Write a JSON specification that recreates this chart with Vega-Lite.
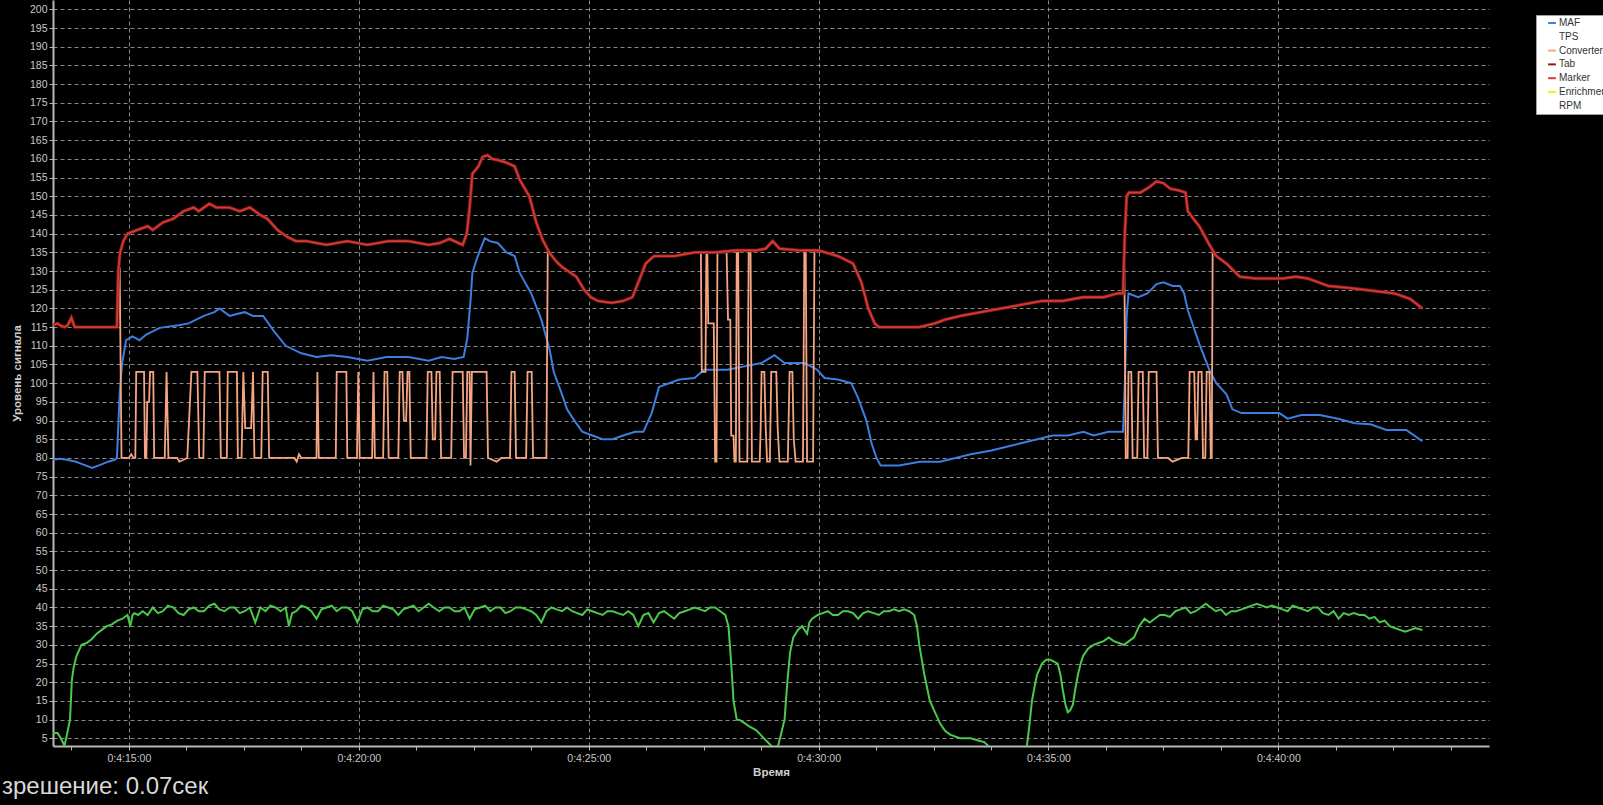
{
  "$schema": "https://vega.github.io/schema/vega-lite/v6.json",
  "width": 1436,
  "height": 746,
  "autosize": {"type": "none"},
  "padding": {"left": 53, "top": 0, "right": 114, "bottom": 59},
  "background": "#000000",
  "title": {
    "text": "зрешение: 0.07сек",
    "orient": "bottom",
    "anchor": "start",
    "frame": "group",
    "baseline": "alphabetic",
    "offset": 16,
    "dx": -51,
    "fontSize": 24,
    "fontWeight": "normal",
    "font": "Liberation Sans",
    "color": "#d8d8d8"
  },
  "datasets": {
    "green": [
      {"t":253.34,"v":6.4},{"t":253.45,"v":6.4},{"t":253.52,"v":5},{"t":253.6,"v":3},{"t":253.67,"v":7},{"t":253.72,"v":10},{"t":253.76,"v":20.6},{"t":253.8,"v":24},{"t":253.86,"v":27},{"t":253.97,"v":30},{"t":254.08,"v":30.5},{"t":254.19,"v":31.5},{"t":254.3,"v":33},{"t":254.41,"v":34},{"t":254.52,"v":35},{"t":254.63,"v":35.5},{"t":254.75,"v":36.5},{"t":254.86,"v":37},{"t":254.97,"v":38},{"t":255.03,"v":35},{"t":255.08,"v":38},{"t":255.12,"v":38.5},{"t":255.2,"v":38},{"t":255.3,"v":39},{"t":255.41,"v":38},
      {"t":255.52,"v":40},{"t":255.63,"v":38.5},{"t":255.74,"v":39},{"t":255.85,"v":40.5},{"t":255.97,"v":40},{"t":256.08,"v":38.5},{"t":256.19,"v":38},{"t":256.3,"v":39.5},{"t":256.41,"v":40},{"t":256.52,"v":39},{"t":256.63,"v":39},{"t":256.75,"v":40.5},{"t":256.86,"v":41},{"t":256.97,"v":39.5},{"t":257.08,"v":39},{"t":257.19,"v":40},{"t":257.3,"v":40},{"t":257.41,"v":38.5},{"t":257.52,"v":39},{"t":257.63,"v":40},{"t":257.75,"v":36},{"t":257.86,"v":40},{"t":257.97,"v":39},{"t":258.08,"v":40.5},{"t":258.19,"v":40},{"t":258.3,"v":39},{"t":258.41,"v":40},{"t":258.48,"v":35},{"t":258.55,"v":38.5},{"t":258.64,"v":39},{"t":258.75,"v":40.5},{"t":258.86,"v":40},{"t":258.97,"v":39},{"t":259.08,"v":37},{"t":259.19,"v":39.5},{"t":259.3,"v":40},{"t":259.41,"v":40.5},{"t":259.52,"v":39},{"t":259.63,"v":40},{"t":259.75,"v":40},{"t":259.86,"v":39},{"t":259.97,"v":36},{"t":260.08,"v":39.5},{"t":260.19,"v":40},{"t":260.3,"v":39},{"t":260.42,"v":39},{"t":260.53,"v":40.5},{"t":260.64,"v":40},{"t":260.75,"v":39.5},{"t":260.86,"v":38},{"t":260.97,"v":39.5},{"t":261.08,"v":40},{"t":261.19,"v":40.5},{"t":261.3,"v":39},{"t":261.41,"v":40},{"t":261.52,"v":41},{"t":261.63,"v":40},{"t":261.75,"v":39},{"t":261.86,"v":40},{"t":261.97,"v":40},{"t":262.08,"v":39},{"t":262.19,"v":39},{"t":262.3,"v":40},{"t":262.41,"v":37},{"t":262.52,"v":39.5},{"t":262.64,"v":40},{"t":262.75,"v":40.5},{"t":262.86,"v":39},{"t":262.97,"v":40},{"t":263.08,"v":40},{"t":263.19,"v":38.5},{"t":263.3,"v":39},{"t":263.41,"v":40},{"t":263.53,"v":40},{"t":263.64,"v":39.5},{"t":263.75,"v":39},{"t":263.86,"v":38},{"t":263.97,"v":36},{"t":264.08,"v":39},{"t":264.19,"v":40},{"t":264.3,"v":39.5},{"t":264.42,"v":39},{"t":264.53,"v":40},{"t":264.64,"v":39},{"t":264.75,"v":38.5},{"t":264.86,"v":38},{"t":264.97,"v":39.5},{"t":265.08,"v":39},{"t":265.19,"v":38.5},{"t":265.3,"v":38},{"t":265.41,"v":39},{"t":265.52,"v":39},{"t":265.63,"v":38.5},{"t":265.75,"v":38},{"t":265.86,"v":39},{"t":265.97,"v":38},{"t":266.08,"v":35},{"t":266.19,"v":38},{"t":266.3,"v":38.5},{"t":266.41,"v":36},{"t":266.53,"v":38.5},{"t":266.64,"v":39},{"t":266.75,"v":38},{"t":266.86,"v":37},{"t":266.97,"v":38.5},{"t":267.09,"v":39},{"t":267.2,"v":39.5},{"t":267.31,"v":40},{"t":267.42,"v":39.5},{"t":267.53,"v":39},{"t":267.64,"v":40},{"t":267.75,"v":40},{"t":267.86,"v":39},{"t":267.97,"v":38},
      {"t":268.04,"v":35},{"t":268.1,"v":25},{"t":268.15,"v":15},{"t":268.22,"v":10},{"t":268.28,"v":9.9},{"t":268.4,"v":9},{"t":268.5,"v":8.1},{"t":268.64,"v":7.2},{"t":268.78,"v":5.4},{"t":268.97,"v":3},{"t":269.05,"v":2.5},{"t":269.12,"v":3},{"t":269.26,"v":10},{"t":269.32,"v":20},{"t":269.38,"v":28},{"t":269.45,"v":32},{"t":269.55,"v":34},{"t":269.64,"v":35},{"t":269.75,"v":33},{"t":269.8,"v":36},{"t":269.86,"v":37},{"t":269.98,"v":38},{"t":270.09,"v":38.5},{"t":270.2,"v":39},{"t":270.31,"v":38},{"t":270.42,"v":38},{"t":270.53,"v":39},{"t":270.64,"v":39},{"t":270.75,"v":38.5},{"t":270.86,"v":37},{"t":270.97,"v":38.5},{"t":271.08,"v":39},{"t":271.2,"v":38.5},{"t":271.31,"v":38},{"t":271.42,"v":39},{"t":271.53,"v":39},{"t":271.64,"v":39.5},{"t":271.75,"v":39},{"t":271.86,"v":39.5},{"t":271.97,"v":39},{"t":272.08,"v":38},{"t":272.14,"v":35},{"t":272.19,"v":30},{"t":272.3,"v":22},{"t":272.42,"v":15},{"t":272.53,"v":12},{"t":272.64,"v":9},{"t":272.75,"v":7},{"t":272.86,"v":6},{"t":272.97,"v":5.5},{"t":273.09,"v":5},{"t":273.31,"v":5},{"t":273.45,"v":4.5},{"t":273.6,"v":4},{"t":273.69,"v":3},{"t":273.76,"v":0},{"t":274.47,"v":0},{"t":274.53,"v":3},{"t":274.58,"v":8},{"t":274.64,"v":15},{"t":274.7,"v":19},{"t":274.75,"v":22},{"t":274.86,"v":25},{"t":274.95,"v":26},{"t":275.04,"v":26},{"t":275.12,"v":25.5},{"t":275.2,"v":25},{"t":275.26,"v":22},{"t":275.31,"v":18},{"t":275.37,"v":14},{"t":275.42,"v":12},{"t":275.47,"v":12.5},{"t":275.53,"v":14},{"t":275.58,"v":18},{"t":275.64,"v":22},{"t":275.7,"v":25},{"t":275.75,"v":27},{"t":275.86,"v":29},{"t":275.98,"v":30},{"t":276.09,"v":30.5},{"t":276.2,"v":31},{"t":276.31,"v":32},{"t":276.42,"v":31},{"t":276.53,"v":30.5},{"t":276.64,"v":30},{"t":276.75,"v":31},{"t":276.86,"v":32},{"t":276.97,"v":35},{"t":277.09,"v":37},{"t":277.2,"v":36},{"t":277.31,"v":37},{"t":277.42,"v":38},{"t":277.53,"v":38},{"t":277.64,"v":37.5},{"t":277.76,"v":39},{"t":277.87,"v":39.5},{"t":277.98,"v":40},{"t":278.09,"v":38.5},{"t":278.2,"v":39},{"t":278.31,"v":40},{"t":278.42,"v":41},{"t":278.53,"v":40},{"t":278.64,"v":39},{"t":278.75,"v":39.5},{"t":278.86,"v":38},{"t":278.97,"v":39},{"t":279.08,"v":39},{"t":279.2,"v":39.5},{"t":279.31,"v":40},{"t":279.42,"v":40.5},{"t":279.53,"v":41},{"t":279.64,"v":40.5},{"t":279.75,"v":40},{"t":279.86,"v":40.5},{"t":279.97,"v":40},{"t":280.09,"v":39.5},{"t":280.2,"v":39},{"t":280.31,"v":40.5},{"t":280.42,"v":40},{"t":280.53,"v":39.5},{"t":280.64,"v":39},{"t":280.75,"v":40},{"t":280.86,"v":40},{"t":280.97,"v":38.5},{"t":281.09,"v":38},{"t":281.2,"v":39},{"t":281.31,"v":37},{"t":281.42,"v":38.5},{"t":281.53,"v":38},{"t":281.64,"v":38.5},{"t":281.76,"v":38},{"t":281.87,"v":38},{"t":281.98,"v":37},{"t":282.09,"v":37.5},{"t":282.2,"v":36},{"t":282.31,"v":36.5},{"t":282.42,"v":35},{"t":282.53,"v":34.5},{"t":282.64,"v":34},{"t":282.76,"v":33.5},{"t":282.87,"v":34},{"t":282.98,"v":34.5},{"t":283.13,"v":34}
    ],
    "maf": [
      {"t":253.35,"v":79.5},{"t":253.5,"v":79.8},{"t":253.65,"v":79.5},{"t":253.85,"v":79},{"t":254.0,"v":78.3},{"t":254.2,"v":77.3},{"t":254.35,"v":78},{"t":254.55,"v":79},{"t":254.69,"v":79.5},{"t":254.74,"v":80},{"t":254.8,"v":97},{"t":254.85,"v":105},{"t":254.94,"v":111.5},{"t":255.08,"v":112.5},{"t":255.23,"v":111.5},{"t":255.38,"v":113},{"t":255.67,"v":114.8},{"t":256.08,"v":115.5},{"t":256.3,"v":116},{"t":256.63,"v":118},{"t":256.86,"v":119},{"t":256.97,"v":120},{"t":257.19,"v":118},{"t":257.35,"v":118.5},{"t":257.52,"v":119},{"t":257.7,"v":118},{"t":257.92,"v":118},{"t":258.15,"v":114},{"t":258.41,"v":110},{"t":258.75,"v":108},{"t":259.08,"v":107},{"t":259.4,"v":107.5},{"t":259.75,"v":107},{"t":260.19,"v":106},{"t":260.6,"v":107},{"t":261.08,"v":107},{"t":261.52,"v":106},{"t":261.8,"v":107},{"t":262.08,"v":106.5},{"t":262.28,"v":107},{"t":262.36,"v":112},{"t":262.43,"v":122},{"t":262.47,"v":129.4},{"t":262.56,"v":133},{"t":262.65,"v":136},{"t":262.74,"v":138.8},{"t":262.85,"v":138},{"t":263.02,"v":137.5},{"t":263.1,"v":136.5},{"t":263.21,"v":135},{"t":263.39,"v":134},{"t":263.5,"v":129.5},{"t":263.75,"v":124},{"t":263.97,"v":117},{"t":264.15,"v":109},{"t":264.24,"v":103},{"t":264.42,"v":97},{"t":264.53,"v":93},{"t":264.69,"v":90},{"t":264.86,"v":87},{"t":265.08,"v":86},{"t":265.3,"v":85},{"t":265.52,"v":85},{"t":265.75,"v":86},{"t":266.01,"v":87},{"t":266.19,"v":87},{"t":266.37,"v":92},{"t":266.53,"v":99},{"t":266.75,"v":100},{"t":266.97,"v":101},{"t":267.3,"v":101.4},{"t":267.51,"v":103.6},{"t":268.02,"v":103.6},{"t":268.39,"v":104.5},{"t":268.76,"v":105.4},{"t":269.04,"v":107.5},{"t":269.26,"v":105.4},{"t":269.69,"v":105.4},{"t":269.97,"v":103.6},{"t":270.13,"v":101.4},{"t":270.42,"v":101},{"t":270.71,"v":100},{"t":270.86,"v":96},{"t":271.04,"v":90},{"t":271.15,"v":84},{"t":271.26,"v":80},{"t":271.35,"v":78},{"t":271.75,"v":78},{"t":272.2,"v":79},{"t":272.64,"v":79},{"t":272.98,"v":80},{"t":273.31,"v":81},{"t":273.76,"v":82},{"t":274.09,"v":83},{"t":274.42,"v":84},{"t":274.76,"v":85},{"t":275.09,"v":86},{"t":275.42,"v":86},{"t":275.76,"v":87},{"t":275.98,"v":86},{"t":276.31,"v":87},{"t":276.62,"v":87},{"t":276.66,"v":100},{"t":276.7,"v":118},{"t":276.74,"v":124},{"t":276.95,"v":123},{"t":277.15,"v":124},{"t":277.35,"v":126.5},{"t":277.5,"v":127},{"t":277.7,"v":126},{"t":277.86,"v":126},{"t":277.95,"v":124},{"t":278.03,"v":119.5},{"t":278.28,"v":110.5},{"t":278.5,"v":103.5},{"t":278.65,"v":100},{"t":278.87,"v":97},{"t":279.0,"v":93},{"t":279.2,"v":92},{"t":279.6,"v":92},{"t":280.02,"v":92},{"t":280.2,"v":90.5},{"t":280.5,"v":91.5},{"t":280.9,"v":91.5},{"t":281.3,"v":90.5},{"t":281.66,"v":89.3},{"t":282.0,"v":89},{"t":282.35,"v":87.5},{"t":282.78,"v":87.5},{"t":283.13,"v":84.5}
    ],
    "tab": [
      {"t":253.35,"v":115.5},{"t":253.45,"v":116},{"t":253.5,"v":115.5},{"t":253.6,"v":115},{"t":253.67,"v":115.5},{"t":253.75,"v":117.5},{"t":253.82,"v":115},{"t":254.74,"v":115},{"t":254.77,"v":130},{"t":254.81,"v":135},{"t":254.88,"v":138},{"t":254.97,"v":140},{"t":255.19,"v":141},{"t":255.41,"v":142},{"t":255.52,"v":141},{"t":255.74,"v":143},{"t":255.97,"v":144},{"t":256.19,"v":146},{"t":256.41,"v":147},{"t":256.52,"v":146},{"t":256.75,"v":148},{"t":256.9,"v":147},{"t":257.19,"v":147},{"t":257.41,"v":146},{"t":257.63,"v":147},{"t":257.86,"v":145},{"t":258.01,"v":144},{"t":258.23,"v":141},{"t":258.46,"v":139},{"t":258.63,"v":138},{"t":258.86,"v":138},{"t":259.3,"v":137},{"t":259.75,"v":138},{"t":260.19,"v":137},{"t":260.64,"v":138},{"t":261.08,"v":138},{"t":261.52,"v":137},{"t":261.76,"v":137.5},{"t":261.97,"v":138.6},{"t":262.26,"v":137},{"t":262.35,"v":140},{"t":262.41,"v":147},{"t":262.47,"v":156},{"t":262.6,"v":158},{"t":262.69,"v":160.5},{"t":262.8,"v":161},{"t":262.9,"v":160},{"t":263.02,"v":159.7},{"t":263.21,"v":159},{"t":263.39,"v":158},{"t":263.5,"v":154.4},{"t":263.71,"v":150},{"t":263.86,"v":143},{"t":264.0,"v":138.3},{"t":264.15,"v":134.8},{"t":264.3,"v":132.5},{"t":264.43,"v":131},{"t":264.73,"v":128.5},{"t":264.9,"v":125},{"t":265.05,"v":123},{"t":265.2,"v":122},{"t":265.5,"v":121.5},{"t":265.75,"v":122},{"t":265.95,"v":123},{"t":266.08,"v":127},{"t":266.24,"v":132},{"t":266.42,"v":134},{"t":266.86,"v":134},{"t":267.31,"v":135},{"t":267.75,"v":135},{"t":268.19,"v":135.5},{"t":268.64,"v":135.5},{"t":268.85,"v":136},{"t":269.0,"v":138},{"t":269.15,"v":136},{"t":269.6,"v":135.5},{"t":270.0,"v":135.5},{"t":270.42,"v":134},{"t":270.75,"v":132},{"t":270.93,"v":127},{"t":271.08,"v":120},{"t":271.22,"v":116},{"t":271.31,"v":115},{"t":272.19,"v":115},{"t":272.53,"v":116},{"t":272.75,"v":117},{"t":273.09,"v":118},{"t":273.53,"v":119},{"t":273.98,"v":120},{"t":274.42,"v":121},{"t":274.86,"v":122},{"t":275.31,"v":122},{"t":275.75,"v":123},{"t":276.2,"v":123},{"t":276.5,"v":124},{"t":276.62,"v":124},{"t":276.66,"v":140},{"t":276.7,"v":150},{"t":276.75,"v":151},{"t":277.0,"v":151},{"t":277.2,"v":152.5},{"t":277.35,"v":154},{"t":277.5,"v":153.5},{"t":277.65,"v":152},{"t":277.85,"v":151.5},{"t":277.98,"v":151},{"t":278.03,"v":146},{"t":278.15,"v":144},{"t":278.28,"v":142},{"t":278.5,"v":137},{"t":278.65,"v":134},{"t":278.87,"v":132},{"t":279.16,"v":128.5},{"t":279.5,"v":128},{"t":280.09,"v":128},{"t":280.38,"v":128.5},{"t":280.64,"v":128},{"t":281.09,"v":126},{"t":281.53,"v":125.5},{"t":281.87,"v":125},{"t":282.2,"v":124.5},{"t":282.53,"v":124},{"t":282.87,"v":122.5},{"t":283.13,"v":120}
    ],
    "conv": [
      {"t":253.35,"v":115.5},{"t":253.45,"v":116},{"t":253.5,"v":115.5},{"t":253.6,"v":115},{"t":253.67,"v":115.5},{"t":253.75,"v":117.5},{"t":253.82,"v":115},{"t":254.74,"v":115},{"t":254.77,"v":130},{"t":254.8,"v":131},
      {"t":254.84,"v":80},{"t":255.0,"v":80},{"t":255.05,"v":81},{"t":255.1,"v":80},{"t":255.14,"v":80},{"t":255.16,"v":103},{"t":255.33,"v":103},{"t":255.35,"v":80},{"t":255.38,"v":80},{"t":255.4,"v":95},{"t":255.44,"v":95},{"t":255.46,"v":103},{"t":255.53,"v":103},{"t":255.55,"v":80},{"t":255.78,"v":80},{"t":255.82,"v":103},{"t":255.86,"v":80},{"t":256.05,"v":80},{"t":256.1,"v":79},{"t":256.27,"v":80},{"t":256.36,"v":103},{"t":256.49,"v":103},{"t":256.53,"v":80},{"t":256.62,"v":80},{"t":256.65,"v":103},{"t":256.97,"v":103},{"t":257.0,"v":80},{"t":257.13,"v":80},{"t":257.15,"v":103},{"t":257.35,"v":103},{"t":257.37,"v":80},{"t":257.45,"v":80},{"t":257.49,"v":103},{"t":257.53,"v":88},{"t":257.66,"v":88},{"t":257.7,"v":103},{"t":257.73,"v":80},{"t":257.88,"v":80},{"t":257.91,"v":103},{"t":258.02,"v":103},{"t":258.05,"v":80},{"t":258.6,"v":80},{"t":258.65,"v":79},{"t":258.7,"v":81},{"t":258.75,"v":80},{"t":259.08,"v":80},{"t":259.1,"v":103},{"t":259.13,"v":80},{"t":259.5,"v":80},{"t":259.52,"v":103},{"t":259.73,"v":103},{"t":259.75,"v":80},{"t":259.96,"v":80},{"t":259.99,"v":103},{"t":260.02,"v":80},{"t":260.29,"v":80},{"t":260.32,"v":103},{"t":260.35,"v":80},{"t":260.53,"v":80},{"t":260.56,"v":103},{"t":260.62,"v":103},{"t":260.65,"v":80},{"t":260.86,"v":80},{"t":260.89,"v":103},{"t":260.95,"v":103},{"t":260.98,"v":90},{"t":261.03,"v":90},{"t":261.06,"v":103},{"t":261.1,"v":103},{"t":261.13,"v":80},{"t":261.47,"v":80},{"t":261.5,"v":103},{"t":261.58,"v":103},{"t":261.61,"v":85},{"t":261.66,"v":85},{"t":261.69,"v":103},{"t":261.76,"v":103},{"t":261.79,"v":80},{"t":262.01,"v":80},{"t":262.04,"v":103},{"t":262.26,"v":103},{"t":262.29,"v":80},{"t":262.33,"v":80},{"t":262.36,"v":103},{"t":262.41,"v":103},{"t":262.43,"v":78},{"t":262.46,"v":103},{"t":262.78,"v":103},{"t":262.81,"v":80},{"t":263.0,"v":79},{"t":263.1,"v":80},{"t":263.29,"v":80},{"t":263.32,"v":103},{"t":263.39,"v":103},{"t":263.42,"v":80},{"t":263.64,"v":80},{"t":263.67,"v":103},{"t":263.76,"v":103},{"t":263.79,"v":80},{"t":264.08,"v":80},{"t":264.11,"v":135.5},
      {"t":264.15,"v":134.8},{"t":264.3,"v":132.5},{"t":264.43,"v":131},{"t":264.73,"v":128.5},{"t":264.9,"v":125},{"t":265.05,"v":123},{"t":265.2,"v":122},{"t":265.5,"v":121.5},{"t":265.75,"v":122},{"t":265.95,"v":123},{"t":266.08,"v":127},{"t":266.24,"v":132},{"t":266.42,"v":134},{"t":266.86,"v":134},{"t":267.31,"v":135},{"t":267.44,"v":135},
      {"t":267.46,"v":103},{"t":267.54,"v":103},{"t":267.56,"v":135},{"t":267.58,"v":135},{"t":267.6,"v":116},{"t":267.72,"v":116},{"t":267.75,"v":79},{"t":267.78,"v":79},{"t":267.8,"v":135},{"t":268.0,"v":135},{"t":268.03,"v":117},{"t":268.08,"v":117},{"t":268.1,"v":86},{"t":268.15,"v":86},{"t":268.17,"v":79},{"t":268.2,"v":79},{"t":268.22,"v":135.5},{"t":268.25,"v":135.5},{"t":268.28,"v":79},{"t":268.45,"v":79},{"t":268.48,"v":135.5},{"t":268.52,"v":135.5},{"t":268.55,"v":79},{"t":268.72,"v":79},{"t":268.74,"v":88},{"t":268.76,"v":103},{"t":268.82,"v":103},{"t":268.85,"v":88},{"t":268.88,"v":79},{"t":268.94,"v":79},{"t":268.97,"v":103},{"t":269.08,"v":103},{"t":269.11,"v":88},{"t":269.15,"v":79},{"t":269.33,"v":79},{"t":269.37,"v":103},{"t":269.43,"v":103},{"t":269.46,"v":85},{"t":269.5,"v":79},{"t":269.66,"v":79},{"t":269.69,"v":135.5},{"t":269.72,"v":135.5},{"t":269.75,"v":79},{"t":269.88,"v":79},{"t":269.91,"v":135.5},
      {"t":270.0,"v":135.5},{"t":270.42,"v":134},{"t":270.75,"v":132},{"t":270.93,"v":127},{"t":271.08,"v":120},{"t":271.22,"v":116},{"t":271.31,"v":115},{"t":272.19,"v":115},{"t":272.53,"v":116},{"t":272.75,"v":117},{"t":273.09,"v":118},{"t":273.53,"v":119},{"t":273.98,"v":120},{"t":274.42,"v":121},{"t":274.86,"v":122},{"t":275.31,"v":122},{"t":275.75,"v":123},{"t":276.2,"v":123},{"t":276.5,"v":124},{"t":276.62,"v":124},{"t":276.65,"v":131},
      {"t":276.68,"v":80},{"t":276.72,"v":80},{"t":276.74,"v":103},{"t":276.8,"v":103},{"t":276.83,"v":80},{"t":276.93,"v":80},{"t":276.96,"v":103},{"t":277.05,"v":103},{"t":277.08,"v":80},{"t":277.15,"v":80},{"t":277.18,"v":103},{"t":277.35,"v":103},{"t":277.38,"v":80},{"t":277.6,"v":80},{"t":277.7,"v":79},{"t":277.9,"v":80},{"t":278.04,"v":80},{"t":278.07,"v":103},{"t":278.17,"v":103},{"t":278.2,"v":85},{"t":278.23,"v":85},{"t":278.26,"v":103},{"t":278.33,"v":103},{"t":278.36,"v":80},{"t":278.41,"v":80},{"t":278.44,"v":103},{"t":278.5,"v":103},{"t":278.53,"v":80},{"t":278.55,"v":80},{"t":278.57,"v":135},
      {"t":278.65,"v":134},{"t":278.87,"v":132},{"t":279.16,"v":128.5},{"t":279.5,"v":128},{"t":280.09,"v":128},{"t":280.38,"v":128.5},{"t":280.64,"v":128},{"t":281.09,"v":126},{"t":281.53,"v":125.5},{"t":281.87,"v":125},{"t":282.2,"v":124.5},{"t":282.53,"v":124},{"t":282.87,"v":122.5},{"t":283.13,"v":120}
    ]
  },
  "encoding": {
    "x": {
      "field": "t",
      "type": "quantitative",
      "title": "Время",
      "scale": {"domain": [253.35, 284.58], "nice": false, "zero": false},
      "axis": {
        "values": [253.75, 255, 256.25, 257.5, 258.75, 260, 261.25, 262.5, 263.75, 265, 266.25, 267.5, 268.75, 270, 271.25, 272.5, 273.75, 275, 276.25, 277.5, 278.75, 280, 281.25, 282.5, 283.75],
        "labelExpr": "datum.value % 5 === 0 ? '0:' + floor(datum.value / 60) + ':' + (datum.value % 60 < 10 ? '0' : '') + (datum.value % 60) + ':00' : ''",
        "gridOpacity": {"condition": {"test": "datum.value % 5 === 0", "value": 0.85}, "value": 0},
        "labelPadding": 3,
        "titlePadding": 3
      }
    },
    "y": {
      "field": "v",
      "type": "quantitative",
      "title": "Уровень сигнала",
      "scale": {"domain": [2.95, 202.5], "nice": false, "zero": false},
      "axis": {
        "values": [5, 10, 15, 20, 25, 30, 35, 40, 45, 50, 55, 60, 65, 70, 75, 80, 85, 90, 95, 100, 105, 110, 115, 120, 125, 130, 135, 140, 145, 150, 155, 160, 165, 170, 175, 180, 185, 190, 195, 200],
        "gridOpacity": 0.85,
        "labelPadding": 2,
        "titlePadding": 7
      }
    }
  },
  "layer": [
    {
      "data": {"name": "green"},
      "mark": {"type": "line", "color": "#4cc94c", "strokeWidth": 2, "clip": true}
    },
    {
      "data": {"name": "maf"},
      "mark": {"type": "line", "strokeWidth": 2, "clip": true},
      "encoding": {
        "color": {
          "datum": "MAF",
          "type": "nominal",
          "scale": {
            "domain": ["MAF", "TPS", "Converter", "Tab", "Marker", "Enrichment", "RPM"],
            "range": ["#3d7ee0", "#ffffff", "#f5a582", "#8b1a1a", "#d23c32", "#f0f020", "#ffffff"]
          },
          "legend": {
            "values": ["MAF", "TPS", "Converter", "Tab", "Marker", "Enrichment", "RPM"]
          }
        }
      }
    },
    {
      "data": {"name": "conv"},
      "mark": {"type": "line", "strokeWidth": 1.8, "clip": true},
      "encoding": {"color": {"datum": "Converter", "type": "nominal"}}
    },
    {
      "data": {"name": "tab"},
      "mark": {"type": "line", "strokeWidth": 3.4, "clip": true},
      "encoding": {"color": {"datum": "Tab", "type": "nominal"}}
    },
    {
      "data": {"name": "tab"},
      "mark": {"type": "line", "strokeWidth": 1.7, "clip": true},
      "encoding": {"color": {"datum": "Marker", "type": "nominal"}}
    }
  ],
  "config": {
    "view": {"stroke": null},
    "axis": {
      "labelFont": "Liberation Sans",
      "labelFontSize": 10.5,
      "labelColor": "#c8c8c8",
      "labelOverlap": false,
      "titleFont": "Liberation Sans",
      "titleFontSize": 11.5,
      "titleFontWeight": "bold",
      "titleColor": "#d0d0d0",
      "domainColor": "#b8b8b8",
      "domainWidth": 2,
      "tickColor": "#b8b8b8",
      "tickSize": 4,
      "gridColor": "#a0a0a0",
      "gridDash": [4, 3],
      "gridWidth": 1
    },
    "legend": {
      "orient": "none",
      "legendX": 1483,
      "legendY": 15,
      "title": null,
      "fillColor": "#ffffff",
      "strokeColor": "#a0a0a0",
      "padding": 3,
      "symbolType": "stroke",
      "symbolSize": 60,
      "symbolStrokeWidth": 2,
      "symbolOffset": 8,
      "labelFont": "Liberation Sans",
      "labelFontSize": 10,
      "labelColor": "#333333",
      "labelOffset": 2,
      "rowPadding": 3.8
    }
  }
}
